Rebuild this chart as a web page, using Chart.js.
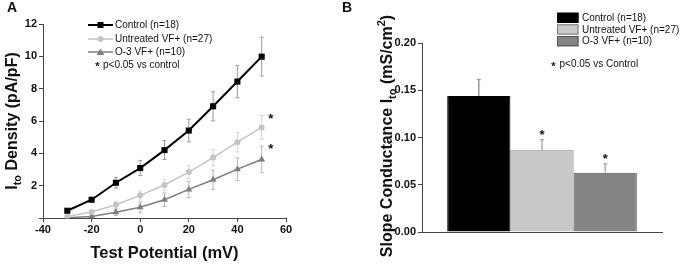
<!DOCTYPE html>
<html>
<head>
<meta charset="utf-8">
<script src="https://cdn.jsdelivr.net/npm/chart.js@4.4.0/dist/chart.umd.min.js"></script>
<style>
  html, body { margin: 0; padding: 0; background: #fff; }
  #wrap { position: relative; width: 680px; height: 264px; }
  canvas { position: absolute; top: 0; }
  #chartA { left: 0; }
  #chartB { left: 340px; }
</style>
</head>
<body>
<div id="wrap">
  <canvas id="chartA" width="340" height="264"></canvas>
  <canvas id="chartB" width="340" height="264"></canvas>
</div>
<script>
// Panel A: Ito density vs test potential
const potentials = [-30, -20, -10, 0, 10, 20, 30, 40, 50];
const controlDensity = [0.45, 1.13, 2.18, 3.09, 4.2, 5.41, 6.91, 8.44, 9.98];
const controlErr = [0.08, 0.12, 0.33, 0.47, 0.58, 0.7, 0.9, 1.0, 1.2];
const untreatedDensity = [0.1, 0.37, 0.82, 1.4, 2.04, 2.84, 3.74, 4.69, 5.6];
const untreatedErr = [0.05, 0.1, 0.2, 0.28, 0.35, 0.42, 0.5, 0.6, 0.74];
const o3Density = [0.02, 0.1, 0.35, 0.66, 1.13, 1.77, 2.37, 3.02, 3.62];
const o3Err = [0.03, 0.08, 0.2, 0.33, 0.42, 0.5, 0.6, 0.7, 0.82];
const xTicksA = [-40, -20, 0, 20, 40, 60];
const yTicksA = [0, 2, 4, 6, 8, 10, 12];

// Panel B: slope conductance
const groups = ["Control (n=18)", "Untreated VF+ (n=27)", "O-3 VF+ (n=10)"];
const slopeConductance = [0.144, 0.0865, 0.0627];
const slopeErr = [0.0175, 0.011, 0.0095];
const yTicksB = [0, 0.05, 0.1, 0.15, 0.2];

const FONT = "'Liberation Sans', Arial, sans-serif";
Chart.defaults.font.family = FONT;
Chart.defaults.color = "#111";

function drawRich(ctx, parts, x, y, rotate) {
  ctx.save();
  ctx.translate(x, y);
  if (rotate) ctx.rotate(-Math.PI / 2);
  let total = 0;
  parts.forEach(p => { ctx.font = p.font; total += ctx.measureText(p.t).width; });
  let cx = -total / 2;
  ctx.textAlign = "left";
  ctx.textBaseline = "alphabetic";
  ctx.fillStyle = "#111";
  parts.forEach(p => {
    ctx.font = p.font;
    ctx.fillText(p.t, cx, p.dy || 0);
    cx += ctx.measureText(p.t).width;
  });
  ctx.restore();
}

function marker(ctx, style, x, y, color) {
  ctx.fillStyle = color;
  ctx.beginPath();
  if (style === "rect") {
    ctx.rect(x - 3, y - 3, 6, 6);
  } else if (style === "circle") {
    ctx.arc(x, y, 3, 0, Math.PI * 2);
  } else {
    ctx.moveTo(x, y - 3.5);
    ctx.lineTo(x + 4, y + 3);
    ctx.lineTo(x - 4, y + 3);
    ctx.closePath();
  }
  ctx.fill();
}

function star(ctx, x, yCenter, size) {
  ctx.font = "bold " + size + "px " + FONT;
  ctx.textAlign = "center";
  ctx.textBaseline = "alphabetic";
  ctx.fillStyle = "#111";
  ctx.fillText("*", x, yCenter + size * 0.55);
}

const toPoints = vals => vals.map((v, i) => ({ x: potentials[i], y: v }));

const panelA = {
  id: "panelA",
  beforeDatasetsDraw(chart) {
    const { ctx, scales: { x, y } } = chart;
    ctx.save();
    ctx.lineWidth = 1;
    chart.data.datasets.forEach(ds => {
      ctx.strokeStyle = ds.errColor;
      ds.data.forEach((p, j) => {
        const px = x.getPixelForValue(p.x);
        const top = y.getPixelForValue(p.y + ds.err[j]);
        const bot = y.getPixelForValue(Math.max(0, p.y - ds.err[j]));
        ctx.beginPath();
        ctx.moveTo(px, top); ctx.lineTo(px, bot);
        ctx.moveTo(px - 2, top); ctx.lineTo(px + 2, top);
        ctx.moveTo(px - 2, bot); ctx.lineTo(px + 2, bot);
        ctx.stroke();
      });
    });
    ctx.restore();
  },
  afterDraw(chart) {
    const { ctx, scales: { x, y } } = chart;
    ctx.save();
    // significance marks next to the last points
    [1, 2].forEach(i => {
      const ds = chart.data.datasets[i];
      const last = ds.data.length - 1;
      const p = ds.data[last];
      star(ctx, x.getPixelForValue(p.x) + 9, y.getPixelForValue(p.y + ds.err[last]), 13);
    });
    // legend
    const rows = [25, 39, 52];
    chart.data.datasets.forEach((ds, i) => {
      ctx.strokeStyle = ds.borderColor;
      ctx.lineWidth = ds.borderWidth;
      ctx.beginPath();
      ctx.moveTo(88, rows[i]); ctx.lineTo(113, rows[i]);
      ctx.stroke();
      marker(ctx, ds.pointStyle, 100.5, rows[i], ds.pointBackgroundColor);
      ctx.font = "10px " + FONT;
      ctx.textAlign = "left";
      ctx.textBaseline = "middle";
      ctx.fillStyle = "#111";
      ctx.fillText(ds.label, 115, rows[i] + 0.5);
    });
    ctx.font = "10px " + FONT;
    ctx.textAlign = "left";
    ctx.textBaseline = "middle";
    ctx.fillText("p<0.05 vs control", 103, 65);
    star(ctx, 97.5, 64, 11);
    // titles
    ctx.font = "bold 14px " + FONT;
    ctx.textAlign = "left";
    ctx.textBaseline = "top";
    ctx.fillText("A", 7, 1);
    const big = "bold 16px " + FONT, small = "bold 11px " + FONT;
    drawRich(ctx, [{ t: "Test Potential (mV)", font: "bold 16.5px " + FONT }], 164.5, 258, false);
    drawRich(ctx, [
      { t: "I", font: big },
      { t: "to", font: small, dy: 4 },
      { t: " Density (pA/pF)", font: big }
    ], 17, 121, true);
    ctx.restore();
  }
};

new Chart(document.getElementById("chartA"), {
  type: "line",
  data: {
    datasets: [
      {
        label: "Control (n=18)", data: toPoints(controlDensity), err: controlErr,
        errColor: "#9a9a9a", borderColor: "#000", borderWidth: 2,
        pointStyle: "rect", pointRadius: 4.3, pointBackgroundColor: "#000", pointBorderWidth: 0
      },
      {
        label: "Untreated VF+ (n=27)", data: toPoints(untreatedDensity), err: untreatedErr,
        errColor: "#d6d6d6", borderColor: "#c4c4c4", borderWidth: 1.5,
        pointStyle: "circle", pointRadius: 3, pointBackgroundColor: "#c4c4c4", pointBorderWidth: 0
      },
      {
        label: "O-3 VF+ (n=10)", data: toPoints(o3Density), err: o3Err,
        errColor: "#b8b8b8", borderColor: "#7e7e7e", borderWidth: 1.5,
        pointStyle: "triangle", pointRadius: 4, pointBackgroundColor: "#7e7e7e", pointBorderWidth: 0
      }
    ]
  },
  options: {
    responsive: false,
    animation: false,
    layout: { padding: { left: 0, right: 54, top: 24, bottom: 0 } },
    plugins: { legend: { display: false }, tooltip: { enabled: false } },
    scales: {
      x: {
        type: "linear", min: -40, max: 60,
        afterFit: s => { s.height = 46; },
        afterBuildTicks: s => { s.ticks = xTicksA.map(v => ({ value: v })); },
        grid: { drawOnChartArea: false, tickLength: 4, color: "#444" },
        border: { color: "#444", width: 1 },
        ticks: { padding: 1, font: { size: 11, weight: "bold" }, color: "#111" }
      },
      y: {
        min: 0, max: 12,
        afterFit: s => { s.width = 43; },
        afterBuildTicks: s => { s.ticks = yTicksA.map(v => ({ value: v })); },
        grid: { drawOnChartArea: false, tickLength: 4, color: "#444" },
        border: { color: "#444", width: 1 },
        ticks: {
          padding: 2, font: { size: 11, weight: "bold" }, color: "#111",
          callback: v => (v === 0 ? "" : v)
        }
      }
    }
  },
  plugins: [panelA]
});

const panelB = {
  id: "panelB",
  afterDatasetsDraw(chart) {
    const { ctx, scales: { y } } = chart;
    ctx.save();
    ctx.lineWidth = 1.5;
    chart.data.datasets.forEach((ds, i) => {
      const bar = chart.getDatasetMeta(i).data[0];
      const top = y.getPixelForValue(ds.data[0] + ds.err);
      ctx.strokeStyle = ds.errColor;
      ctx.beginPath();
      ctx.moveTo(bar.x, bar.y); ctx.lineTo(bar.x, top);
      ctx.moveTo(bar.x - 2, top); ctx.lineTo(bar.x + 2, top);
      ctx.stroke();
      if (i > 0) star(ctx, bar.x, top - 8, 13);
    });
    ctx.restore();
  },
  afterDraw(chart) {
    const { ctx } = chart;
    ctx.save();
    const tops = [12.7, 24.3, 36];
    chart.data.datasets.forEach((ds, i) => {
      ctx.fillStyle = ds.backgroundColor;
      ctx.fillRect(217, tops[i], 21.5, 10.3);
      ctx.strokeStyle = ds.borderColor;
      ctx.lineWidth = 1;
      ctx.strokeRect(217.5, tops[i] + 0.5, 20.5, 9.3);
      ctx.font = "10px " + FONT;
      ctx.textAlign = "left";
      ctx.textBaseline = "middle";
      ctx.fillStyle = "#111";
      ctx.fillText(ds.label, 242, tops[i] + 5.5);
    });
    ctx.font = "10px " + FONT;
    ctx.fillText("p<0.05 vs Control", 219.5, 64.5);
    star(ctx, 213.5, 64, 11);
    ctx.font = "bold 14px " + FONT;
    ctx.textAlign = "left";
    ctx.textBaseline = "top";
    ctx.fillText("B", 2, 1);
    const big = "bold 16px " + FONT, small = "bold 11px " + FONT;
    drawRich(ctx, [
      { t: "Slope Conductance I", font: big },
      { t: "to", font: small, dy: 4 },
      { t: " (mS/cm", font: big },
      { t: "2", font: small, dy: -7 },
      { t: ")", font: big }
    ], 52, 136, true);
    ctx.restore();
  }
};

new Chart(document.getElementById("chartB"), {
  type: "bar",
  data: {
    labels: [""],
    datasets: [
      { label: groups[0], data: [slopeConductance[0]], err: slopeErr[0], backgroundColor: "#000", borderColor: "#000", errColor: "#9a9a9a" },
      { label: groups[1], data: [slopeConductance[1]], err: slopeErr[1], backgroundColor: "#c8c8c8", borderColor: "#7a7a7a", errColor: "#b0b0b0" },
      { label: groups[2], data: [slopeConductance[2]], err: slopeErr[2], backgroundColor: "#848484", borderColor: "#555", errColor: "#b0b0b0" }
    ]
  },
  options: {
    responsive: false,
    animation: false,
    layout: { padding: { left: 0, right: 18, top: 43, bottom: 0 } },
    datasets: { bar: { categoryPercentage: 0.79, barPercentage: 1, borderWidth: 1 } },
    plugins: { legend: { display: false }, tooltip: { enabled: false } },
    scales: {
      x: {
        afterFit: s => { s.height = 32; },
        grid: { display: false },
        border: { color: "#444", width: 1 },
        ticks: { display: false }
      },
      y: {
        min: 0, max: 0.2,
        afterFit: s => { s.width = 82; },
        afterBuildTicks: s => { s.ticks = yTicksB.map(v => ({ value: v })); },
        grid: { drawOnChartArea: false, tickLength: 4, color: "#444" },
        border: { color: "#444", width: 1 },
        ticks: {
          padding: 2, font: { size: 11, weight: "bold" }, color: "#111",
          callback: v => v.toFixed(2)
        }
      }
    }
  },
  plugins: [panelB]
});
</script>
</body>
</html>
